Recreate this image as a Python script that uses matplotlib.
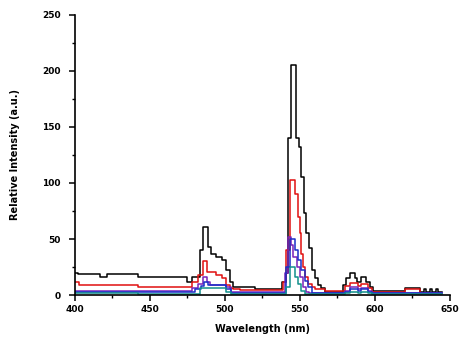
import numpy as np
import matplotlib
matplotlib.use("Agg")
import matplotlib.pyplot as plt
from matplotlib.ticker import MultipleLocator

# Spectra (step-wise: value holds until next x)
black_x = [400, 402, 416.7, 421.3, 442, 475, 477.8, 483.3, 485.6, 488.9, 491.1, 494.4, 497.8,
           501.1, 503.3, 505.6, 520, 537.8, 540.5, 542.2, 544.4, 547.3, 549.6, 551.1, 552.7,
           554.4, 556.2, 557.8, 560, 562.2, 564.4, 566.7, 578.9, 581.1, 583.3, 586.7, 587.8,
           591.1, 594.4, 596.7, 598.9, 620, 630, 633, 634, 637, 638, 641, 642, 645]
black_y = [20, 19, 16, 19, 16, 12, 16, 40, 61, 43, 37, 34, 31,
           22, 12, 7.5, 5.5, 12, 20, 140, 205, 140, 132, 105, 73,
           55, 42, 22, 15, 9, 6, 3, 9, 15, 19.5, 15, 12,
           16.5, 12, 7, 4, 6, 3, 5, 3, 5, 3, 5, 3, 3]

red_x = [400, 403, 442, 478, 482.2, 485.6, 487.8, 494.4, 497.8, 501.1, 503.3, 505.6, 510,
         538.9, 541.1, 543.3, 546.7, 548.9, 550, 551.1, 552.2, 553.3, 555.6, 557.8, 560,
         566.7, 580, 583.3, 588.9, 591.1, 595.6, 598, 620, 630, 645]
red_y = [12, 9, 7.5, 12, 18, 30, 21, 18, 15, 9, 6, 5, 4.5,
         12, 40, 103, 90, 70, 55, 37, 25, 16, 10, 7, 5,
         4, 8, 11, 8, 10, 6, 3, 5, 2, 2]

purple_x = [400, 442, 478, 482.2, 485.6, 487.8, 490, 501.1, 504, 540, 542.2, 544.4, 545.6,
            547.8, 550, 552.2, 554.4, 556, 580, 583.3, 588.9, 591.1, 595.6, 598, 645]
purple_y = [4, 3.5, 6, 10, 16, 12, 9, 7, 3, 20, 52, 45, 34,
            25, 16, 7, 3, 2, 4, 7, 5, 6, 4, 2, 2]

blue_x = [400, 442, 480, 484, 486, 489, 501.1, 504, 541.1, 543.3, 546.7, 548.9, 551.1,
          553.3, 555.6, 557.8, 580, 583.3, 588.9, 591.1, 595.6, 598, 645]
blue_y = [3, 2.5, 5, 8, 12, 9, 5, 2, 25, 50, 40, 31, 22,
          13, 7, 2, 3, 5.5, 4, 5, 3, 1.5, 1.5]

teal_x = [400, 442, 483.3, 501.1, 504, 541.1, 543.3, 546.7, 548.9, 551.1, 553.3, 580,
          583.3, 588.9, 591.1, 595.6, 598, 645]
teal_y = [1.5, 1.2, 6, 3, 1, 7, 25, 16, 10, 4, 1, 1.5,
          3, 2, 3, 2, 0.8, 0.8]

series = [
    (black_x, black_y, "black"),
    (red_x, red_y, "#e01010"),
    (purple_x, purple_y, "#7a22b8"),
    (blue_x, blue_y, "#1a2ec8"),
    (teal_x, teal_y, "#12908c"),
]

plt.rcParams["font.family"] = "DejaVu Sans"
plt.rcParams["font.weight"] = "bold"

fig = plt.figure(figsize=(4.59, 3.38), dpi=100)
ax = fig.add_axes([0.163, 0.127, 0.817, 0.829])

for x, y, c in series:
    ax.step(x, y, where="post", color=c, linewidth=1.1)

ax.set_xlim(400, 650)
ax.set_ylim(0, 250)
ax.xaxis.set_major_locator(MultipleLocator(50))
ax.xaxis.set_minor_locator(MultipleLocator(25))
ax.yaxis.set_major_locator(MultipleLocator(50))
ax.yaxis.set_minor_locator(MultipleLocator(25))

ax.spines["top"].set_visible(False)
ax.spines["right"].set_visible(False)
for s in ["left", "bottom"]:
    ax.spines[s].set_linewidth(1.2)

ax.tick_params(axis="y", which="major", direction="out", length=4, width=1.1, labelsize=6.5, pad=6)
ax.tick_params(axis="x", which="major", direction="out", length=4, width=1.1, labelsize=6.5, pad=3)
ax.tick_params(which="minor", direction="out", length=2.5, width=1.0)
for lab in ax.get_xticklabels() + ax.get_yticklabels():
    lab.set_fontweight("bold")

ax.set_xlabel("Wavelength (nm)", fontsize=7, fontweight="bold", labelpad=7)
ax.set_ylabel("Relative Intensity (a.u.)", fontsize=7, fontweight="bold", labelpad=16)

fig.savefig("out.png", dpi=100)
